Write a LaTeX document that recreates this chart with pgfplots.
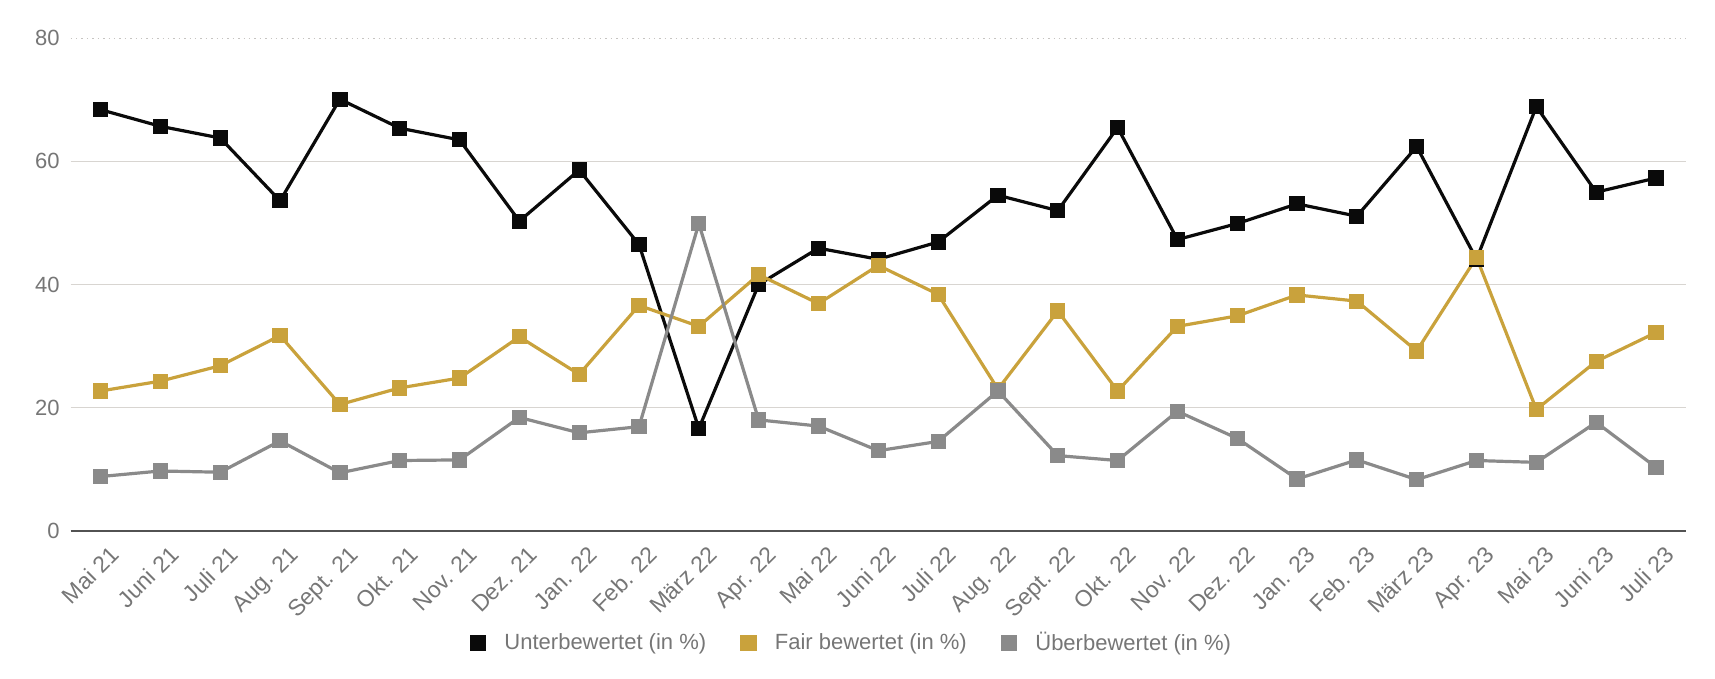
\documentclass[border=0pt]{standalone}
\usepackage{pgfplots}
\pgfplotsset{compat=1.18}
\usepackage{fontspec}
\setmainfont{Liberation Sans}
\definecolor{cUnter}{HTML}{0A0A0A}
\definecolor{cFair}{HTML}{C9A23C}
\definecolor{cUeber}{HTML}{8A8A8A}
\definecolor{cText}{HTML}{767676}
\definecolor{cGrid}{HTML}{D8D5D1}
\begin{document}
\begin{tikzpicture}[x=1pt,y=1pt]
\begin{axis}[
  at={(35.35pt,74.15pt)}, anchor=south west,
  scale only axis, width=807.6pt, height=246.2pt,
  xmin=-0.5, xmax=26.5, ymin=0, ymax=80,
  axis x line*=bottom, axis y line*=left,
  x axis line style={-, draw=black!68, line width=1.1pt},
  y axis line style={draw=none},
  major tick length=0pt, tick style={draw=none},
  ytick={0,20,40,60}, extra y ticks={80},
  extra y tick style={grid style={cGrid!80!gray, dotted, line width=0.5pt}},
  ymajorgrids, grid style={cGrid, line width=0.7pt},
  xtick={0,...,26},
  xticklabels={Mai 21,Juni 21,Juli 21,Aug. 21,Sept. 21,Okt. 21,Nov. 21,Dez. 21,Jan. 22,Feb. 22,März 22,Apr. 22,Mai 22,Juni 22,Juli 22,Aug. 22,Sept. 22,Okt. 22,Nov. 22,Dez. 22,Jan. 23,Feb. 23,März 23,Apr. 23,Mai 23,Juni 23,Juli 23},
  ticklabel style={text=cText},
  y tick label style={font=\fontsize{11}{13}\selectfont, xshift=-2pt},
  /pgf/number format/assume math mode=true,
  x tick label style={rotate=45, anchor=north east, xshift=-1pt, yshift=-6.6pt, inner sep=1pt, font=\fontsize{11.5}{13}\selectfont},
  legend columns=3,
  legend style={at={(0.484,-0.228)}, anchor=center, draw=none, fill=none,
    font=\fontsize{11}{13}\selectfont, text=cText,
    /tikz/every odd column/.append style={column sep=7pt},
    /tikz/every even column/.append style={column sep=15pt}},
  legend image code/.code={\fill[#1, draw=none] (0pt,-4pt) rectangle (8.3pt,4pt);},
  every axis plot/.append style={line width=1.6pt, mark=square*, mark size=3pt, mark options={solid}},
  clip=false,
]
\addplot[color=cUnter] coordinates {
(0,68.4) (1,65.7) (2,63.8) (3,53.6) (4,70.1) (5,65.4) (6,63.5) (7,50.3) (8,58.6)
(9,46.5) (10,16.6) (11,40.0) (12,45.9) (13,44.1) (14,46.9) (15,54.5) (16,52.0) (17,65.5)
(18,47.3) (19,49.9) (20,53.1) (21,51.1) (22,62.4) (23,44.1) (24,68.9) (25,55.0) (26,57.3)};
\addlegendentry{Unterbewertet (in \%)}
\addplot[color=cFair] coordinates {
(0,22.7) (1,24.3) (2,26.8) (3,31.7) (4,20.5) (5,23.2) (6,24.8) (7,31.5) (8,25.4)
(9,36.6) (10,33.2) (11,41.6) (12,36.9) (13,43.1) (14,38.4) (15,23.0) (16,35.7) (17,22.7)
(18,33.2) (19,34.9) (20,38.3) (21,37.3) (22,29.2) (23,44.4) (24,19.7) (25,27.5) (26,32.2)};
\addlegendentry{Fair bewertet (in \%)}
\addplot[color=cUeber] coordinates {
(0,8.8) (1,9.7) (2,9.5) (3,14.6) (4,9.4) (5,11.4) (6,11.5) (7,18.4) (8,15.9)
(9,16.9) (10,49.9) (11,18.0) (12,17.0) (13,13.0) (14,14.5) (15,22.7) (16,12.2) (17,11.4)
(18,19.4) (19,15.0) (20,8.4) (21,11.5) (22,8.3) (23,11.4) (24,11.1) (25,17.6) (26,10.3)};
\addlegendentry{Überbewertet (in \%)}
\end{axis}
\pgfresetboundingbox
\useasboundingbox (0pt,0pt) rectangle (857.5pt,339.5pt);
\end{tikzpicture}
\end{document}
